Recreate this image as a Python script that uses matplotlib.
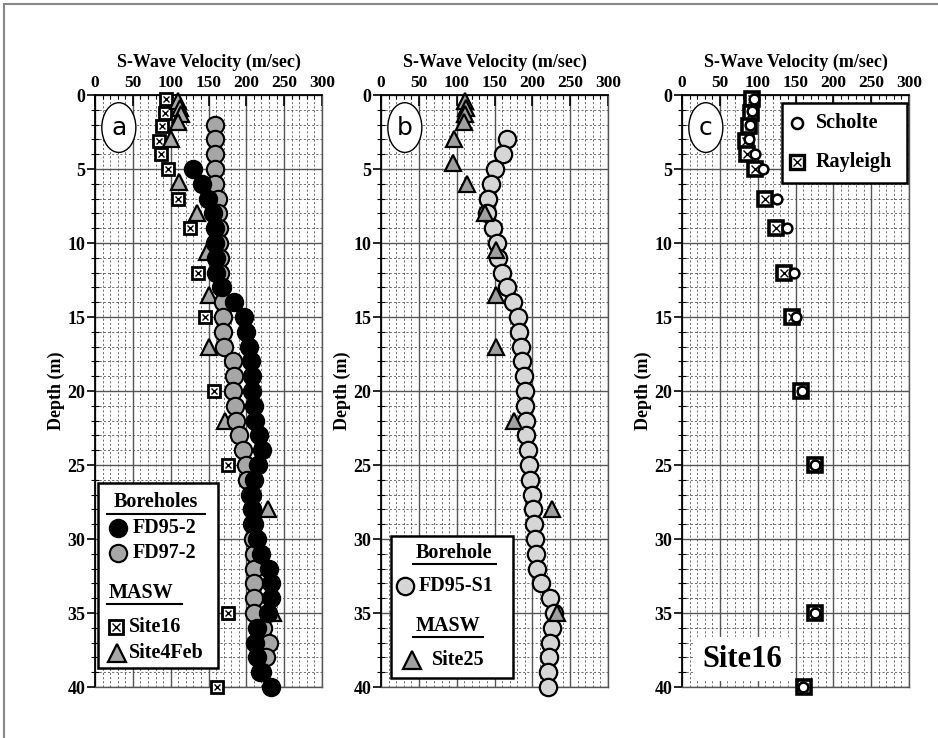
import matplotlib
matplotlib.use("Agg")
import matplotlib.pyplot as plt
from matplotlib.patches import Rectangle, Ellipse
from matplotlib.lines import Line2D
import numpy as np

plt.rcParams['font.family'] = ['Liberation Serif', 'DejaVu Serif']
plt.rcParams['font.weight'] = 'bold'

# ---------------- data ----------------
# Panel a
fd952_depth = list(range(5, 41))
fd952_vs = [130, 141, 149, 156, 158, 158, 160, 160, 168, 184, 197, 199, 203, 206, 208,
            208, 210, 212, 217, 221, 215, 210, 208, 208, 210, 214, 219, 230, 232, 232,
            228, 214, 212, 214, 221, 232]
fd972_depth = list(range(2, 40))
fd972_vs = [158, 158, 158, 158, 158, 162, 163, 164, 164, 165, 165, 166, 169, 169, 169,
            171, 183, 184, 183, 185, 187, 190, 195, 199, 201, 205, 207, 208, 209, 210,
            210, 210, 210, 210, 222, 230, 226, 218]
site16_depth = [0.3, 1.2, 2.1, 3.1, 4.0, 5.0, 7.0, 9.0, 12.0, 15.0, 20.0, 25.0, 35.0, 40.0]
site16_vs = [94, 92, 89, 84, 87, 96, 110, 125, 136, 146, 157, 176, 176, 161]
site4feb_depth = [0.4, 0.9, 1.3, 1.8, 3.0, 5.9, 8.0, 10.6, 13.5, 17.0, 22.0, 28.0, 35.0]
site4feb_vs = [110, 112, 113, 110, 100, 111, 135, 148, 150, 150, 172, 228, 235]

# Panel b
fd95s1_depth = list(range(3, 41))
fd95s1_vs = [167, 161, 151, 145, 142, 140, 148, 153, 155, 160, 166, 174, 181, 183, 185,
             187, 189, 190, 190, 191, 192, 194, 196, 197, 200, 201, 202, 203, 205, 206,
             212, 223, 228, 226, 223, 222, 221, 221]
site25_depth = [0.4, 0.9, 1.3, 1.8, 3.0, 4.6, 6.0, 8.0, 10.5, 13.5, 17.0, 22.0, 28.0, 35.0]
site25_vs = [111, 112, 111, 110, 97, 95, 113, 137, 152, 152, 152, 176, 226, 233]

# Panel c
scholte_depth = [0.3, 1.1, 2.0, 3.0, 4.0, 5.0, 7.0, 9.0, 12.0, 15.0, 20.0, 25.0, 35.0, 40.0]
scholte_vs = [95, 93, 90, 88, 96, 107, 126, 139, 148, 150, 158, 176, 176, 160]
rayleigh_depth = site16_depth
rayleigh_vs = [93, 91, 89, 84, 86, 96, 110, 124, 135, 146, 157, 176, 176, 161]

panel_letters = ['a', 'b', 'c']
xlabel = 'S-Wave Velocity (m/sec)'
ylabel = 'Depth (m)'

# ---------------- figure ----------------
fig = plt.figure(figsize=(9.38, 7.38), dpi=100)
W, H = 938, 738
lefts = [95, 381, 682]
axw = 227
top_px, bot_px = 95, 687

# outer frame (top and left edges)
fig.add_artist(Line2D([4 / W, 4 / W], [0, 1 - 4 / H], color='#888888', lw=1.5))
fig.add_artist(Line2D([4 / W, 1], [1 - 4 / H, 1 - 4 / H], color='#888888', lw=1.5))

axes = []
for i, l in enumerate(lefts):
    ax = fig.add_axes([l / W, 1 - bot_px / H, axw / W, (bot_px - top_px) / H])
    ax.set_xlim(0, 300)
    ax.set_ylim(40, 0)
    ax.xaxis.tick_top()
    ax.xaxis.set_label_position('top')
    ax.set_xticks(np.arange(0, 301, 50))
    ax.set_xticks(np.arange(0, 301, 10), minor=True)
    ax.set_yticks(np.arange(0, 41, 5))
    ax.set_yticks(np.arange(0, 41, 1), minor=True)
    ax.tick_params(axis='x', which='major', direction='in', length=8, width=1.2,
                   labelsize=12.5, pad=3, top=True, bottom=False)
    ax.tick_params(axis='x', which='minor', direction='in', length=3, width=0.8,
                   top=True, bottom=False)
    ax.tick_params(axis='y', which='major', direction='out', length=6, width=1.2,
                   labelsize=13, pad=1, right=False)
    ax.tick_params(axis='y', which='minor', direction='inout', length=6, width=0.8,
                   right=False)
    ax.grid(True, which='major', color='#555555', lw=1.0, ls='-')
    ax.grid(True, which='minor', color='#555555', lw=0.6, ls=(0, (2.5, 2.5)))
    ax.set_axisbelow(True)
    for s in ['left', 'top']:
        ax.spines[s].set_linewidth(1.3)
        ax.spines[s].set_color('black')
    for s in ['right', 'bottom']:
        ax.spines[s].set_linewidth(1.0)
        ax.spines[s].set_color('#555555')
    ax.set_xlabel(xlabel, fontsize=13, fontweight='bold', labelpad=6)
    ax.set_ylabel(ylabel, fontsize=13, fontweight='bold', labelpad=2)
    # panel letter ellipse
    e = Ellipse((0.105, 0.945), 0.15, 0.084, transform=ax.transAxes,
                facecolor='white', edgecolor='black', lw=1.0, zorder=5)
    ax.add_patch(e)
    ax.text(0.105, 0.945, panel_letters[i], transform=ax.transAxes, ha='center',
            va='center', fontsize=18, fontweight='normal', family='DejaVu Sans',
            zorder=6)
    axes.append(ax)

ax_a, ax_b, ax_c = axes


def square_x(ax, v, d, ms=9, mew=2.0, z=3, transform=None):
    kw = {} if transform is None else {'transform': transform}
    ax.plot(v, d, ls='none', marker='s', ms=ms, mfc='white', mec='black', mew=mew,
            zorder=z, clip_on=False, **kw)
    ax.plot(v, d, ls='none', marker='x', ms=ms * 0.55, mec='black', mew=1.0,
            zorder=z + 0.1, clip_on=False, **kw)


# ---- panel a ----
square_x(ax_a, site16_vs, site16_depth, ms=9, z=3)
ax_a.plot(site4feb_vs, site4feb_depth, ls='none', marker='^', ms=12, mfc='#a8a8a8',
          mec='black', mew=1.6, zorder=3.5, clip_on=False)
ax_a.plot(fd972_vs, fd972_depth, ls='none', marker='o', ms=12.5, mfc='#a6a6a6',
          mec='black', mew=1.5, zorder=4, clip_on=False)
ax_a.plot(fd952_vs, fd952_depth, ls='none', marker='o', ms=12.5, mfc='black',
          mec='black', mew=1.5, zorder=4.5, clip_on=False)

T = ax_a.transAxes
ax_a.add_patch(Rectangle((0.013, 0.032), 0.53, 0.313, transform=T, facecolor='white',
                         edgecolor='black', lw=1.8, zorder=7))
ax_a.text(0.27, 0.312, 'Boreholes', transform=T, ha='center', va='center',
          fontsize=14.5, zorder=8)
ax_a.add_line(Line2D([0.055, 0.485], [0.293, 0.293], transform=T, color='black',
                     lw=1.5, zorder=8))
ax_a.plot([0.101], [0.269], transform=T, marker='o', ms=12.5, mfc='black', mec='black',
          mew=1.5, zorder=8, clip_on=False)
ax_a.text(0.165, 0.269, 'FD95-2', transform=T, ha='left', va='center', fontsize=14.5,
          zorder=8)
ax_a.plot([0.101], [0.226], transform=T, marker='o', ms=12.5, mfc='#a6a6a6', mec='black',
          mew=1.5, zorder=8, clip_on=False)
ax_a.text(0.165, 0.226, 'FD97-2', transform=T, ha='left', va='center', fontsize=14.5,
          zorder=8)
ax_a.text(0.06, 0.159, 'MASW', transform=T, ha='left', va='center', fontsize=14.5,
          zorder=8)
ax_a.add_line(Line2D([0.055, 0.385], [0.14, 0.14], transform=T, color='black',
                     lw=1.5, zorder=8))
square_x(ax_a, [0.093], [0.101], ms=10, z=8, transform=T)
ax_a.text(0.15, 0.101, 'Site16', transform=T, ha='left', va='center', fontsize=14.5,
          zorder=8)
ax_a.plot([0.097], [0.057], transform=T, marker='^', ms=13, mfc='#a8a8a8', mec='black',
          mew=1.6, zorder=8, clip_on=False)
ax_a.text(0.148, 0.057, 'Site4Feb', transform=T, ha='left', va='center', fontsize=14.5,
          zorder=8)

# ---- panel b ----
ax_b.plot(fd95s1_vs, fd95s1_depth, ls='none', marker='o', ms=12.5, mfc='#d6d6d6',
          mec='black', mew=1.6, zorder=4, clip_on=False)
ax_b.plot(site25_vs, site25_depth, ls='none', marker='^', ms=12, mfc='#a0a0a0',
          mec='black', mew=1.6, zorder=4.5, clip_on=False)

T = ax_b.transAxes
ax_b.add_patch(Rectangle((0.044, 0.015), 0.537, 0.24, transform=T, facecolor='white',
                         edgecolor='black', lw=1.8, zorder=7))
ax_b.text(0.322, 0.226, 'Borehole', transform=T, ha='center', va='center',
          fontsize=14.5, zorder=8)
ax_b.add_line(Line2D([0.14, 0.505], [0.207, 0.207], transform=T, color='black',
                     lw=1.5, zorder=8))
ax_b.plot([0.106], [0.171], transform=T, marker='o', ms=12.5, mfc='#d6d6d6', mec='black',
          mew=1.6, zorder=8, clip_on=False)
ax_b.text(0.168, 0.171, 'FD95-S1', transform=T, ha='left', va='center', fontsize=14.5,
          zorder=8)
ax_b.text(0.295, 0.103, 'MASW', transform=T, ha='center', va='center', fontsize=14.5,
          zorder=8)
ax_b.add_line(Line2D([0.14, 0.45], [0.085, 0.085], transform=T, color='black',
                     lw=1.5, zorder=8))
ax_b.plot([0.137], [0.046], transform=T, marker='^', ms=13, mfc='#a0a0a0', mec='black',
          mew=1.6, zorder=8, clip_on=False)
ax_b.text(0.225, 0.046, 'Site25', transform=T, ha='left', va='center', fontsize=14.5,
          zorder=8)

# ---- panel c ----
square_x(ax_c, rayleigh_vs, rayleigh_depth, ms=10, mew=2.6, z=4)
ax_c.plot(scholte_vs, scholte_depth, ls='none', marker='o', ms=7, mfc='white',
          mec='black', mew=1.8, zorder=5, clip_on=False)

T = ax_c.transAxes
ax_c.add_patch(Rectangle((0.44, 0.851), 0.55, 0.135, transform=T, facecolor='white',
                         edgecolor='black', lw=1.8, zorder=7))
ax_c.plot([0.507], [0.953], transform=T, marker='o', ms=8, mfc='white', mec='black',
          mew=1.8, zorder=8, clip_on=False)
ax_c.text(0.59, 0.953, 'Scholte', transform=T, ha='left', va='center', fontsize=14.5,
          zorder=8)
square_x(ax_c, [0.507], [0.887], ms=10, mew=2.4, z=8, transform=T)
ax_c.text(0.59, 0.887, 'Rayleigh', transform=T, ha='left', va='center', fontsize=14.5,
          zorder=8)
ax_c.text(0.265, 0.047, 'Site16', transform=T, ha='center', va='center', fontsize=22,
          zorder=8, bbox=dict(boxstyle='square,pad=0.25', facecolor='white',
                               edgecolor='none'))

fig.savefig('out.png', dpi=100)
